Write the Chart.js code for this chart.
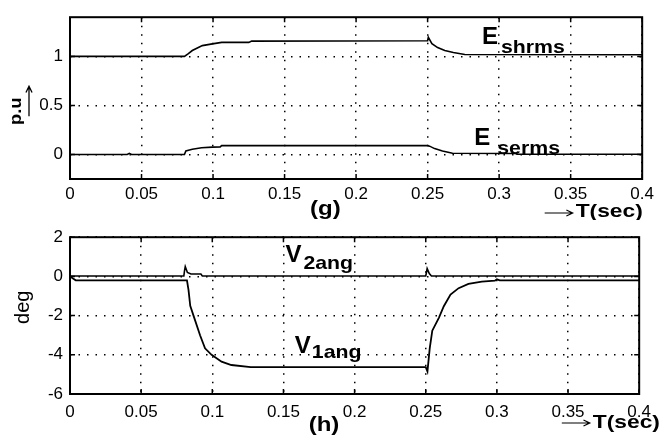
<!DOCTYPE html>
<html>
<head>
<meta charset="utf-8">
<script src="https://cdn.jsdelivr.net/npm/chart.js@4.4.1/dist/chart.umd.min.js"></script>
<style>
  html, body { margin: 0; padding: 0; background: #fff; }
  #wrap { position: relative; width: 659px; height: 439px; background: #fff; overflow: hidden; }
  canvas { position: absolute; left: 0; }
</style>
</head>
<body>
<div id="wrap">
  <canvas id="chartG" width="659" height="220" style="top:0"></canvas>
  <canvas id="chartH" width="659" height="219" style="top:220px"></canvas>
</div>
<script>
// tick values
const xTicks = [0, 0.05, 0.1, 0.15, 0.2, 0.25, 0.3, 0.35, 0.4];
const yTicksG = [0, 0.5, 1];
const yTicksH = [-6, -4, -2, 0, 2];

// (g) E_shrms
const tShrms = [0, 0.08, 0.0825, 0.0855, 0.0925, 0.0995, 0.106, 0.125, 0.127, 0.25, 0.2505, 0.253, 0.257, 0.262, 0.268, 0.276, 0.4];
const eShrms = [1, 1, 1.025, 1.06, 1.11, 1.128, 1.143, 1.143, 1.156, 1.16, 1.195, 1.13, 1.09, 1.06, 1.04, 1.02, 1.017];
// (g) E_serms
const tSerms = [0, 0.04, 0.0415, 0.043, 0.08, 0.081, 0.0855, 0.092, 0.0995, 0.105, 0.106, 0.25, 0.2514, 0.2549, 0.2604, 0.2674, 0.3115, 0.3125, 0.4];
const eSerms = [0, 0, 0.012, 0, 0, 0.037, 0.053, 0.068, 0.075, 0.077, 0.09, 0.09, 0.085, 0.06, 0.035, 0.012, 0.01, 0.002, 0.002];

// (h) V2ang
const tV2 = [0, 0.08, 0.0805, 0.081, 0.0825, 0.085, 0.092, 0.093, 0.25, 0.2505, 0.251, 0.2525, 0.254, 0.4];
const v2ang = [0.02, 0.02, 0.3, 0.5, 0.2, 0.12, 0.12, 0.02, 0.02, 0.2, 0.4, 0.15, 0.02, 0.02];
// (h) V1ang
const tV1 = [0, 0.004, 0.0822, 0.0833, 0.0845, 0.0868, 0.0914, 0.0949, 0.0995, 0.1065, 0.1134, 0.127, 0.25, 0.2512, 0.2528, 0.2546, 0.2593, 0.2627, 0.2674, 0.2731, 0.28, 0.2894, 0.2986, 0.3, 0.302, 0.4];
const v1ang = [0, -0.2, -0.2, -0.7, -1.5, -2.0, -3.0, -3.67, -4.0, -4.35, -4.52, -4.63, -4.63, -4.85, -3.67, -2.77, -2.1, -1.52, -0.93, -0.6, -0.38, -0.27, -0.22, -0.15, -0.2, -0.2];

const FONT = '"Liberation Sans", Arial, sans-serif';

function pts(t, v) {
  return t.map((x, i) => ({ x: x, y: v[i] }));
}

// text with a little horizontal stretch, the source font is wide
function stretchText(ctx, txt, x, y, font, sx, align) {
  ctx.save();
  ctx.font = font;
  const w = ctx.measureText(txt).width * sx;
  let x0 = x;
  if (align === 'center') x0 = x - w / 2;
  ctx.translate(x0, y);
  ctx.scale(sx, 1);
  ctx.textAlign = 'left';
  ctx.textBaseline = 'alphabetic';
  ctx.fillText(txt, 0, 0);
  ctx.restore();
  return w;
}

function arrow(ctx, x1, y1, x2, y2) {
  const ang = Math.atan2(y2 - y1, x2 - x1);
  ctx.beginPath();
  ctx.moveTo(x1, y1);
  ctx.lineTo(x2, y2);
  ctx.moveTo(x2 - 7 * Math.cos(ang - 0.45), y2 - 7 * Math.sin(ang - 0.45));
  ctx.lineTo(x2, y2);
  ctx.lineTo(x2 - 7 * Math.cos(ang + 0.45), y2 - 7 * Math.sin(ang + 0.45));
  ctx.stroke();
}

const framePlugin = {
  id: 'frame',
  afterDraw(chart, args, opts) {
    const ctx = chart.ctx;
    const a = chart.chartArea;
    const xs = chart.scales.x, ys = chart.scales.y;
    ctx.save();
    ctx.setLineDash([]);
    ctx.strokeStyle = '#000';
    ctx.fillStyle = '#000';
    ctx.lineWidth = 2;
    ctx.strokeRect(a.left, a.top, a.right - a.left, a.bottom - a.top);
    ctx.lineWidth = 1.5;
    ctx.beginPath();
    xs.ticks.forEach(t => {
      const px = xs.getPixelForValue(t.value);
      ctx.moveTo(px, a.top); ctx.lineTo(px, a.top + 5);
      ctx.moveTo(px, a.bottom); ctx.lineTo(px, a.bottom - 5);
    });
    ys.ticks.forEach(t => {
      const py = ys.getPixelForValue(t.value);
      ctx.moveTo(a.left, py); ctx.lineTo(a.left + 5, py);
      ctx.moveTo(a.right, py); ctx.lineTo(a.right - 5, py);
    });
    ctx.stroke();

    // series labels, main letter + subscript
    (opts.labels || []).forEach(l => {
      const px = xs.getPixelForValue(l.x);
      const py = ys.getPixelForValue(l.y);
      const w = stretchText(ctx, l.main, px, py, 'bold 24px ' + FONT, 1.0);
      stretchText(ctx, l.sub, px + w + l.gap, py + l.drop, 'bold 19px ' + FONT, 1.12);
    });

    // panel caption and time arrow
    const c = opts.caption;
    stretchText(ctx, c.text, xs.getPixelForValue(c.x), a.bottom + c.dy, 'bold 20px ' + FONT, 1.2, 'center');
    ctx.lineWidth = 1.2;
    const tx = xs.getPixelForValue(c.tx);
    arrow(ctx, tx - 31, a.bottom + c.ady, tx - 3, a.bottom + c.ady);
    stretchText(ctx, 'T(sec)', tx, a.bottom + c.tdy, 'bold 19px ' + FONT, 1.2);

    // y axis title
    const yt = opts.yTitle;
    ctx.translate(yt.cx, a.top + yt.cy);
    ctx.rotate(-Math.PI / 2);
    if (yt.arrow) {
      stretchText(ctx, yt.text, 0, 6, 'bold 16px ' + FONT, 1.15, 'center');
      ctx.lineWidth = 1.3;
      arrow(ctx, -5, 14, 25, 14);
    } else {
      ctx.font = '20px ' + FONT;
      ctx.textAlign = 'center';
      ctx.textBaseline = 'middle';
      ctx.fillText(yt.text, 0, 0);
    }
    ctx.restore();
  }
};

function makeOptions(yMin, yMax, yTickVals, xHeight, top, tickPad, extra) {
  return {
    responsive: false,
    animation: false,
    devicePixelRatio: 1,
    layout: { padding: { top: top, right: 13, left: 0, bottom: 0 } },
    elements: { point: { radius: 0 }, line: { tension: 0 } },
    plugins: { legend: { display: false }, tooltip: { enabled: false }, frame: extra },
    scales: {
      x: {
        type: 'linear', min: 0, max: 0.4,
        afterBuildTicks: s => { s.ticks = xTicks.map(v => ({ value: v })); },
        afterFit: s => { s.height = xHeight; },
        ticks: {
          color: '#000', padding: tickPad, maxRotation: 0, autoSkip: false,
          font: { family: FONT, size: 17 },
          callback: v => String(+v.toFixed(2))
        },
        grid: { color: '#000', lineWidth: 1.5, drawTicks: false },
        border: { display: false, dash: [1.5, 7] }
      },
      y: {
        type: 'linear', min: yMin, max: yMax,
        afterBuildTicks: s => { s.ticks = yTickVals.map(v => ({ value: v })); },
        afterFit: s => { s.width = 70; },
        ticks: {
          color: '#000', padding: 7,
          font: { family: FONT, size: 17 },
          callback: v => String(v)
        },
        grid: { color: '#000', lineWidth: 1.5, drawTicks: false },
        border: { display: false, dash: [1.5, 7] }
      }
    }
  };
}

const lineStyle = { borderColor: '#000', borderWidth: 1.6, fill: false, pointRadius: 0 };

new Chart(document.getElementById('chartG'), {
  type: 'line',
  data: {
    datasets: [
      Object.assign({ label: 'E_shrms', data: pts(tShrms, eShrms) }, lineStyle),
      Object.assign({ label: 'E_serms', data: pts(tSerms, eSerms) }, lineStyle)
    ]
  },
  options: makeOptions(-0.25, 1.4, yTicksG, 41, 4, 5, {
    labels: [
      { main: 'E', sub: 'shrms', x: 0.288, y: 1.124, gap: 3, drop: 9 },
      { main: 'E', sub: 'serms', x: 0.2826, y: 0.093, gap: 7, drop: 9 }
    ],
    caption: { text: '(g)', x: 0.1785, dy: 36, tx: 0.3535, ady: 34, tdy: 38 },
    yTitle: { text: 'p.u', cx: 15, cy: 94, arrow: true }
  }),
  plugins: [framePlugin]
});

new Chart(document.getElementById('chartH'), {
  type: 'line',
  data: {
    datasets: [
      Object.assign({ label: 'V2ang', data: pts(tV2, v2ang) }, lineStyle),
      Object.assign({ label: 'V1ang', data: pts(tV1, v1ang) }, lineStyle, { borderWidth: 1.8 })
    ]
  },
  options: makeOptions(-6, 2, yTicksH, 45, 14, 8, {
    labels: [
      { main: 'V', sub: '2ang', x: 0.1514, y: 0.75, gap: 2, drop: 7 },
      { main: 'V', sub: '1ang', x: 0.158, y: -3.93, gap: 1, drop: 5 }
    ],
    caption: { text: '(h)', x: 0.1785, dy: 37, tx: 0.3674, ady: 29, tdy: 34 },
    yTitle: { text: 'deg', cx: 23, cy: 70, arrow: false }
  }),
  plugins: [framePlugin]
});
</script>
</body>
</html>
